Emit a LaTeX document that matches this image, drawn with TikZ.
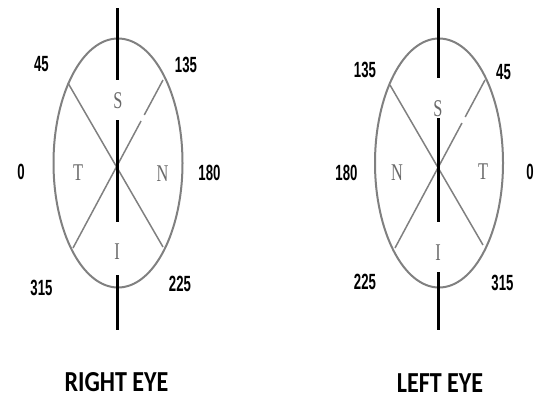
\documentclass[tikz,border=0pt]{standalone}
\usepackage{fontspec}
\usetikzlibrary{calc}
\newfontfamily\numfont[FakeStretch=0.6]{Liberation Sans}
\newfontfamily\letfont[FakeStretch=0.68]{Liberation Serif}
\newfontfamily\titfont[FakeStretch=0.83]{Carlito}
\definecolor{rimgray}{RGB}{128,128,128}
\definecolor{letgray}{RGB}{105,105,105}
\begin{document}
\begin{tikzpicture}[x=1pt,y=-1pt,
  rim/.style={draw=rimgray,line width=2pt},
  diag/.style={draw=rimgray,line width=1.5pt},
  axis/.style={draw=black,line width=3pt},
  num/.style={inner sep=0pt,font=\numfont\bfseries\fontsize{22}{22}\selectfont},
  let/.style={inner sep=0pt,text=letgray,font=\letfont\fontsize{24}{24}\selectfont},
  title/.style={inner sep=0pt,font=\titfont\bfseries\fontsize{29}{29}\selectfont}]
\useasboundingbox (0,0) rectangle (540,400);
% ---------- right eye ----------
\draw[rim] (118,163) ellipse [x radius=64.5, y radius=124.5];
\coordinate (rUL) at (68,83);
\coordinate (rLR) at (163,247);
\coordinate (rUR) at (163,80);
\coordinate (rLL) at (73,248);
\draw[diag] (rUL) -- (rLR);
\draw[diag] (rUR) -- ($(rUR)!0.208!(rLL)$);
\draw[diag] ($(rUR)!0.244!(rLL)$) -- (rLL);
\coordinate (rA1) at (117,8);
\coordinate (rA2) at (117,80);
\coordinate (rA3) at (117,120);
\coordinate (rA4) at (117,222);
\coordinate (rA5) at (117,275);
\coordinate (rA6) at (117,330);
\draw[axis] (rA1) -- (rA2);
\draw[axis] (rA3) -- (rA4);
\draw[axis] (rA5) -- (rA6);
\node[let] (rS) at (118,101) {S};
\node[let] (rT) at (78,173) {T};
\node[let] (rN) at (162.5,174) {N};
\node[let] (rI) at (117,252) {I};
\node[num] (r45) at (41.5,64.5) {45};
\node[num] (r135) at (186,65) {135};
\node[num] (r0) at (21,172) {0};
\node[num] (r180) at (209.5,173) {180};
\node[num] (r315) at (41.5,287.5) {315};
\node[num] (r225) at (180,284) {225};
\node[title] (rtitle) at (116.5,382) {RIGHT EYE};
% ---------- left eye ----------
\draw[rim] (439,163) ellipse [x radius=64, y radius=124.5];
\coordinate (lUL) at (390,85);
\coordinate (lLR) at (483,245);
\coordinate (lUR) at (485,80);
\coordinate (lLL) at (395,248);
\draw[diag] (lUL) -- (lLR);
\draw[diag] (lUR) -- ($(lUR)!0.22!(lLL)$);
\draw[diag] ($(lUR)!0.256!(lLL)$) -- (lLL);
\coordinate (lA1) at (438.3,8);
\coordinate (lA2) at (438.3,78);
\coordinate (lA3) at (438.3,118);
\coordinate (lA4) at (438.3,222);
\coordinate (lA5) at (438.3,272);
\coordinate (lA6) at (438.3,330);
\draw[axis] (lA1) -- (lA2);
\draw[axis] (lA3) -- (lA4);
\draw[axis] (lA5) -- (lA6);
\node[let] (lS) at (438,109) {S};
\node[let] (lN) at (397,173) {N};
\node[let] (lT) at (483,172) {T};
\node[let] (lI) at (438,253) {I};
\node[num] (l135) at (365,69.5) {135};
\node[num] (l45) at (503.5,72.5) {45};
\node[num] (l180) at (346.5,172.5) {180};
\node[num] (l0) at (530,172) {0};
\node[num] (l225) at (365,281.5) {225};
\node[num] (l315) at (502.5,282.5) {315};
\node[title] (ltitle) at (440,383) {LEFT EYE};
\end{tikzpicture}
\end{document}
